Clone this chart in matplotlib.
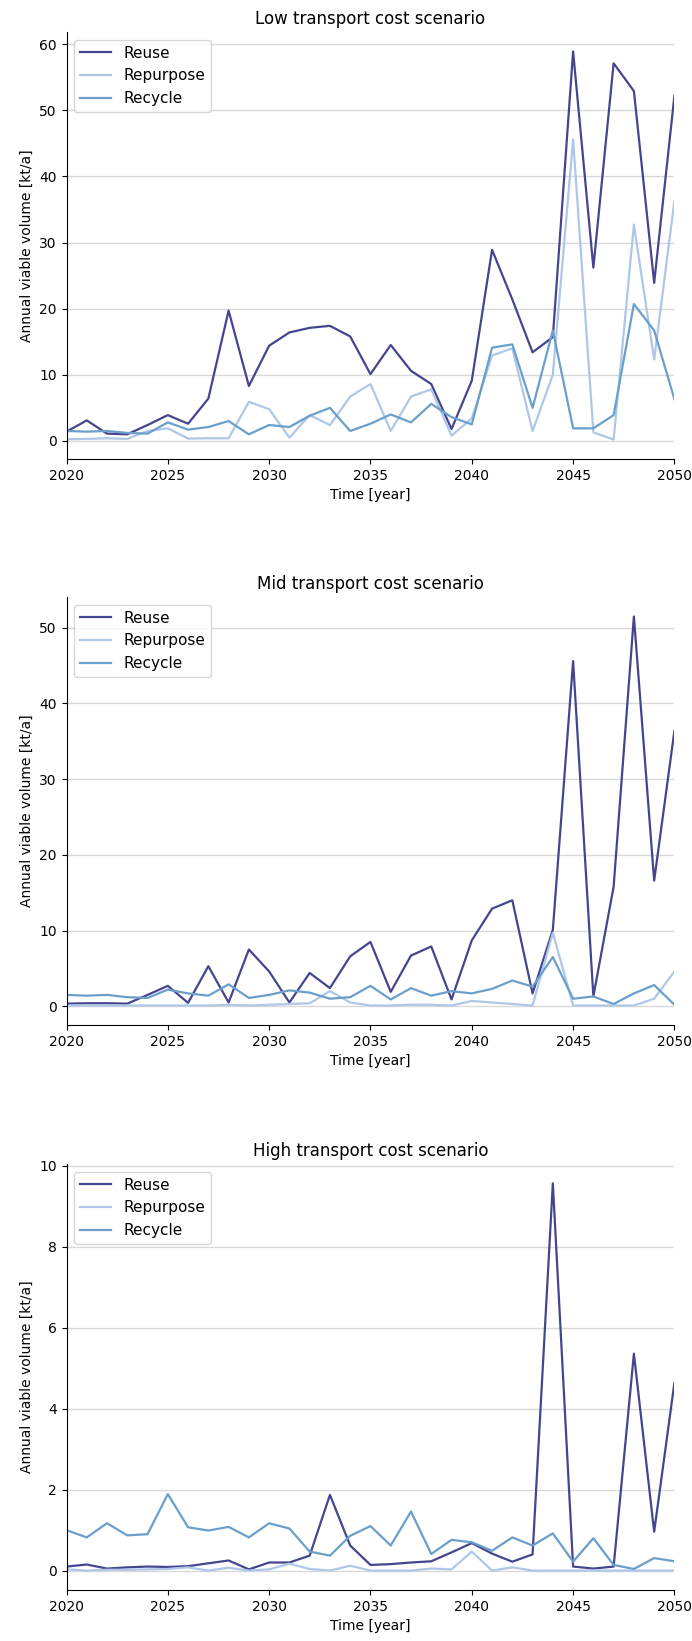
import matplotlib
matplotlib.use("Agg")
import matplotlib.pyplot as plt
import numpy as np

years = list(range(2020, 2051))

# Low transport cost scenario
low_reuse = [1.4, 3.1, 1.1, 1.0, 2.4, 3.9, 2.6, 6.4, 19.7, 8.3, 14.4, 16.4, 17.1, 17.4, 15.8, 10.1,
             14.5, 10.6, 8.6, 1.8, 9.1, 28.9, 21.4, 13.4, 15.7, 58.9, 26.2, 57.1, 52.9, 23.9, 52.2]
low_repurpose = [0.25, 0.3, 0.4, 0.3, 1.5, 1.9, 0.35, 0.4, 0.4, 5.9, 4.8, 0.5, 3.9, 2.4, 6.7, 8.6,
                 1.5, 6.7, 7.8, 0.8, 3.4, 12.9, 14.0, 1.5, 10.0, 45.6, 1.3, 0.2, 32.7, 12.3, 36.3]
low_recycle = [1.5, 1.4, 1.5, 1.2, 1.1, 2.8, 1.7, 2.1, 3.0, 1.0, 2.4, 2.1, 3.8, 5.0, 1.5, 2.6,
               4.0, 2.8, 5.6, 3.6, 2.5, 14.1, 14.6, 5.0, 16.7, 1.9, 1.9, 3.9, 20.7, 16.7, 6.3]

# Mid transport cost scenario
mid_reuse = [0.35, 0.4, 0.4, 0.35, 1.5, 2.7, 0.45, 5.3, 0.5, 7.5, 4.6, 0.5, 4.4, 2.4, 6.6, 8.5,
             1.9, 6.7, 7.9, 0.9, 8.7, 12.9, 14.0, 1.7, 10.1, 45.6, 1.3, 15.8, 51.5, 16.6, 36.4]
mid_repurpose = [0.1, 0.1, 0.1, 0.1, 0.1, 0.1, 0.1, 0.1, 0.2, 0.1, 0.2, 0.3, 0.4, 2.0, 0.5, 0.1,
                 0.1, 0.2, 0.2, 0.1, 0.7, 0.5, 0.3, 0.1, 9.7, 0.1, 0.1, 0.1, 0.1, 1.0, 4.6]
mid_recycle = [1.5, 1.4, 1.5, 1.2, 1.1, 2.2, 1.7, 1.4, 2.9, 1.1, 1.5, 2.1, 1.8, 1.0, 1.2, 2.7,
               0.9, 2.4, 1.4, 2.0, 1.7, 2.3, 3.4, 2.6, 6.5, 1.0, 1.3, 0.3, 1.7, 2.8, 0.2]

# High transport cost scenario
high_reuse = [0.1, 0.15, 0.05, 0.08, 0.1, 0.09, 0.11, 0.18, 0.25, 0.03, 0.2, 0.2, 0.37, 1.87, 0.62, 0.14,
              0.16, 0.2, 0.23, 0.45, 0.68, 0.42, 0.22, 0.4, 9.57, 0.1, 0.05, 0.1, 5.36, 0.96, 4.64]
high_repurpose = [0.03, 0.0, 0.02, 0.02, 0.03, 0.04, 0.08, 0.0, 0.07, 0.0, 0.03, 0.17, 0.04, 0.0, 0.12, 0.0,
                  0.0, 0.0, 0.05, 0.03, 0.47, 0.0, 0.08, 0.0, 0.0, 0.0, 0.0, 0.0, 0.0, 0.0, 0.0]
high_recycle = [1.0, 0.82, 1.17, 0.87, 0.9, 1.89, 1.07, 0.99, 1.08, 0.82, 1.17, 1.04, 0.47, 0.37, 0.86, 1.1,
                0.62, 1.46, 0.41, 0.76, 0.7, 0.49, 0.82, 0.62, 0.92, 0.22, 0.8, 0.14, 0.04, 0.31, 0.23]

titles = ["Low transport cost scenario", "Mid transport cost scenario", "High transport cost scenario"]
labels = ["Reuse", "Repurpose", "Recycle"]
colors = ["#45458f", "#aec7e8", "#6a9fcb"]

scenarios = [
    (low_reuse, low_repurpose, low_recycle),
    (mid_reuse, mid_repurpose, mid_recycle),
    (high_reuse, high_repurpose, high_recycle),
]

fig = plt.figure(figsize=(6.92, 16.41), dpi=100)
boxes = [(0.0961, 0.7203, 0.8785, 0.2602),
         (0.0961, 0.3754, 0.8785, 0.2608),
         (0.0961, 0.0311, 0.8785, 0.2596)]

for box, title, series in zip(boxes, titles, scenarios):
    ax = fig.add_axes(box)
    for vals, lab, col in zip(series, labels, colors):
        ax.plot(years, vals, color=col, label=lab, linewidth=1.6)
    ax.set_xlim(2020, 2050)
    ax.set_xticks(range(2020, 2051, 5))
    ax.grid(axis="y", color="#d9d9d9", linewidth=1)
    ax.set_axisbelow(True)
    ax.spines["top"].set_visible(False)
    ax.spines["right"].set_visible(False)
    ax.set_title(title, fontsize=12)
    ax.set_xlabel("Time [year]")
    ax.set_ylabel("Annual viable volume [kt/a]")
    ax.legend(loc="upper left", fontsize=11)

fig.savefig("out.png", dpi=100)
